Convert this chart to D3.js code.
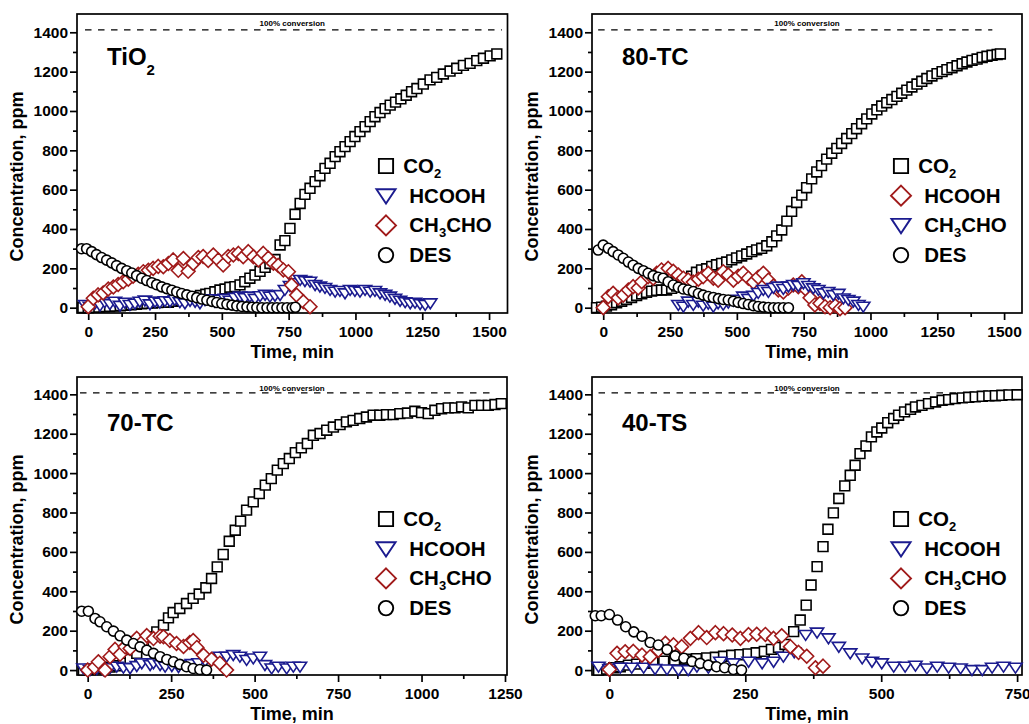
<!DOCTYPE html>
<html><head><meta charset="utf-8">
<script src="https://cdn.jsdelivr.net/npm/d3@7"></script>
<style>
body{margin:0;background:#fff}
svg{display:block}
text{font-family:"Liberation Sans",Arial,sans-serif;font-weight:bold;fill:#000}
</style>
</head><body>
<svg id="chart" width="1029" height="724"></svg>
<script>
// ---------------- DATA ----------------
const panelLabels = ["TiO_2", "80-TC", "70-TC", "40-TS"];
const seriesNamesP1 = ["CO_2", "HCOOH", "CH_3CHO", "DES"];
const seriesNamesP2 = ["CO_2", "HCOOH", "CH_3CHO", "DES"];
const xTicksWide = [0, 250, 500, 750, 1000, 1250, 1500];
const xTicks70 = [0, 250, 500, 750, 1000, 1250];
const xTicks40 = [0, 250, 500, 750];
const yTicks = [0, 200, 400, 600, 800, 1000, 1200, 1400];
const xDomains = [[-42, 1569], [-42, 1567], [-32, 1256], [-32, 759]];
const yDomains = [[-27, 1493], [-27, 1493], [-25, 1488], [-25, 1488]];
const fullConversion = [1412, 1412, 1407, 1407];
const conversionSpan = [[-12, 1548], [-19, 1456], [-23, 1222], [-20, 747]];
const conversionLabel = "100% conversion";
const xTitle = "Time, min";
const yTitle = "Concentration, ppm";

// TiO2
const tio2_CO2 = [[-20,0],[0,0],[20,2],[40,3],[60,5],[80,6],[100,8],[120,10],[140,12],[160,15],[180,17],[200,20],[220,22],[240,24],[260,26],[280,27],[300,28],[320,32],[340,38],[360,44],[380,50],[400,56],[420,62],[440,68],[455,73],[474,81],[493,90],[512,95],[530,104],[549,107],[568,116],[586,132],[605,150],[624,166],[643,185],[662,205],[680,225],[699,245],[718,319],[736,341],[755,403],[774,475],[793,530],[811,576],[830,607],[849,641],[867,671],[886,708],[905,734],[924,768],[942,793],[961,819],[980,844],[998,870],[1017,895],[1036,920],[1055,946],[1073,971],[1092,992],[1111,1012],[1130,1030],[1150,1045],[1170,1062],[1190,1080],[1210,1098],[1230,1114],[1254,1137],[1279,1158],[1304,1171],[1329,1188],[1354,1203],[1379,1217],[1404,1232],[1429,1242],[1454,1256],[1479,1268],[1504,1280],[1529,1290]];
const tio2_HCOOH = [[-12,14],[6,5],[25,20],[44,10],[62,28],[81,18],[100,30],[119,9],[137,25],[156,14],[175,20],[193,30],[212,36],[231,17],[250,30],[268,25],[287,33],[306,31],[324,39],[343,28],[362,22],[381,35],[400,30],[418,22],[437,38],[455,43],[474,30],[493,40],[512,45],[530,35],[549,50],[568,56],[586,48],[605,56],[624,45],[643,58],[662,65],[680,56],[699,60],[718,64],[736,90],[755,110],[774,124],[793,141],[811,135],[830,132],[849,115],[867,107],[886,100],[905,90],[924,81],[942,85],[961,73],[980,90],[998,85],[1017,81],[1036,90],[1055,81],[1073,85],[1092,73],[1111,65],[1129,56],[1148,45],[1167,35],[1186,28],[1205,22],[1223,25],[1242,18],[1261,14],[1280,22]];
const tio2_CH3CHO = [[0,5],[19,48],[37,65],[56,75],[75,95],[94,105],[112,118],[131,132],[150,145],[168,160],[187,170],[206,183],[225,190],[243,200],[262,210],[281,208],[300,225],[318,243],[337,190],[356,250],[374,185],[393,225],[412,255],[430,260],[449,240],[468,268],[487,243],[505,217],[524,260],[543,268],[562,276],[580,259],[599,285],[618,259],[637,243],[655,276],[674,252],[693,226],[711,215],[730,192],[749,183],[761,115],[780,64],[805,30],[830,5]];
const tio2_DES = [[-25,300],[-6,300],[13,285],[31,270],[50,255],[69,242],[88,228],[106,214],[125,200],[144,188],[163,176],[181,163],[200,150],[219,138],[238,127],[256,117],[275,106],[294,97],[313,89],[331,80],[350,72],[369,65],[388,58],[406,51],[425,44],[444,38],[463,32],[481,26],[500,21],[519,17],[538,13],[556,9],[575,6],[594,4],[613,2],[631,1],[650,0],[669,0],[688,0],[706,0],[725,0],[744,0],[763,0],[775,2]];

// 80-TC
const tc80_CO2 = [[-25,0],[-6,3],[12,8],[31,15],[50,25],[69,33],[87,42],[106,52],[125,62],[144,70],[162,78],[181,84],[200,88],[218,90],[237,90],[256,98],[275,110],[293,125],[312,140],[331,160],[349,180],[368,192],[387,198],[406,210],[424,218],[443,225],[462,232],[481,243],[499,253],[518,263],[537,273],[556,285],[574,294],[593,302],[612,315],[631,335],[649,365],[668,395],[687,440],[705,490],[724,535],[743,572],[761,610],[780,655],[799,690],[817,722],[836,755],[855,785],[874,810],[892,835],[911,860],[930,885],[948,910],[967,935],[986,960],[1005,985],[1024,1006],[1042,1025],[1061,1042],[1080,1058],[1099,1074],[1117,1090],[1136,1106],[1155,1122],[1174,1137],[1192,1151],[1211,1165],[1230,1178],[1249,1190],[1268,1200],[1286,1210],[1305,1220],[1324,1230],[1343,1240],[1361,1249],[1380,1257],[1399,1264],[1418,1272],[1436,1278],[1455,1283],[1474,1287],[1486,1290]];
const tc80_HCOOH = [[0,0],[19,56],[37,73],[56,50],[75,64],[94,90],[112,107],[131,100],[144,132],[168,158],[187,150],[200,175],[218,192],[243,200],[262,185],[281,166],[300,150],[318,141],[337,130],[356,145],[374,158],[393,175],[412,150],[430,140],[449,183],[468,166],[487,140],[505,160],[524,175],[543,150],[562,130],[580,155],[599,175],[618,140],[637,110],[655,90],[674,80],[693,100],[711,115],[730,107],[743,132],[761,90],[774,50],[792,14],[811,22],[830,5],[849,0],[868,10],[886,-5],[905,0]];
const tc80_CH3CHO = [[281,14],[300,5],[318,31],[337,14],[356,31],[374,10],[393,20],[412,5],[430,22],[449,15],[468,25],[487,35],[505,40],[524,56],[543,45],[562,60],[580,75],[599,90],[618,80],[637,100],[655,107],[674,95],[693,107],[711,115],[730,110],[749,124],[768,110],[786,98],[805,90],[824,73],[842,80],[861,64],[880,70],[899,47],[917,39],[936,31],[955,14],[973,5]];
const tc80_DES = [[-19,293],[0,318],[19,302],[37,285],[56,268],[75,251],[94,232],[112,216],[131,200],[150,188],[168,175],[187,163],[206,155],[224,150],[243,132],[262,115],[281,104],[299,95],[318,90],[337,82],[356,72],[374,64],[393,57],[412,52],[431,46],[449,42],[468,39],[487,33],[505,27],[524,21],[543,16],[562,10],[580,6],[599,3],[618,1],[637,0],[655,0],[674,0],[693,0]];

// 70-TC
const tc70_CO2 = [[-13,0],[7,3],[27,6],[47,10],[67,15],[87,22],[107,35],[127,55],[147,85],[167,130],[187,169],[207,194],[227,228],[242,265],[256,292],[276,313],[296,338],[316,364],[334,386],[354,418],[371,465],[388,524],[406,587],[424,654],[442,710],[458,756],[476,812],[496,854],[514,896],[532,939],[550,972],[568,1015],[586,1048],[604,1074],[622,1104],[640,1128],[658,1150],[676,1192],[696,1201],[716,1218],[736,1234],[756,1246],[775,1260],[795,1268],[815,1277],[835,1285],[855,1294],[875,1294],[895,1297],[915,1297],[935,1302],[958,1305],[980,1314],[1000,1307],[1020,1302],[1040,1319],[1060,1327],[1080,1331],[1100,1331],[1120,1336],[1140,1331],[1160,1344],[1180,1344],[1200,1344],[1220,1348],[1239,1353]];
const tc70_HCOOH = [[-13,8],[7,0],[27,5],[47,0],[67,10],[87,17],[107,12],[127,9],[147,20],[162,34],[187,25],[197,34],[217,25],[232,17],[252,20],[272,15],[292,25],[312,30],[332,35],[352,45],[376,59],[396,68],[416,68],[436,76],[456,68],[476,51],[496,59],[516,68],[531,25],[551,8],[571,17],[596,8],[616,17],[636,17]];
const tc70_CH3CHO = [[0,0],[20,15],[32,42],[52,0],[67,68],[82,105],[97,80],[112,118],[127,110],[147,161],[162,140],[177,175],[197,160],[217,172],[227,169],[246,150],[266,135],[287,120],[306,140],[316,150],[327,115],[347,75],[371,55],[396,35],[416,0]];
const tc70_DES = [[-18,299],[2,299],[22,262],[37,245],[57,220],[77,198],[97,174],[117,152],[137,135],[157,118],[177,101],[197,85],[217,68],[237,54],[257,42],[276,29],[296,17],[316,8],[336,3],[356,0]];

// 40-TS
const ts40_CO2 = [[-20,0],[-5,5],[8,12],[20,17],[35,25],[50,30],[65,35],[80,40],[100,45],[120,50],[140,55],[160,58],[179,62],[195,65],[210,70],[225,75],[240,78],[255,82],[270,88],[285,95],[298,105],[311,115],[323,130],[339,195],[351,254],[362,330],[371,432],[382,525],[393,627],[402,715],[412,798],[422,871],[433,935],[443,989],[452,1040],[461,1099],[472,1138],[482,1184],[492,1209],[501,1229],[512,1256],[523,1277],[532,1294],[543,1311],[554,1324],[563,1336],[575,1344],[587,1353],[600,1361],[612,1370],[624,1373],[636,1378],[649,1382],[661,1385],[673,1387],[686,1390],[698,1392],[710,1393],[722,1395],[735,1397],[750,1398]];
const ts40_HCOOH = [[-20,17],[0,5],[20,12],[41,12],[63,12],[84,5],[106,3],[127,0],[145,0],[161,17],[182,12],[204,42],[228,34],[256,42],[281,34],[302,42],[320,68],[340,90],[361,178],[382,190],[403,161],[422,118],[443,85],[465,59],[483,42],[501,34],[523,17],[544,17],[563,22],[584,8],[603,17],[624,12],[646,8],[667,0],[686,0],[704,12],[725,17],[747,12]];
const ts40_CH3CHO = [[0,3],[14,85],[29,93],[44,95],[60,76],[75,68],[90,100],[103,136],[118,128],[133,119],[149,161],[164,190],[179,165],[195,190],[210,185],[226,178],[241,161],[256,180],[271,182],[287,181],[302,161],[317,174],[333,119],[348,90],[363,70],[379,12],[393,20]];
const ts40_DES = [[-26,276],[-15,276],[0,282],[15,254],[30,220],[45,194],[60,172],[75,140],[90,127],[106,104],[121,72],[137,60],[152,44],[167,34],[182,25],[197,17],[212,12],[228,3],[243,0]];

// ---------------- LAYOUT / STYLE ----------------
const frames = [
  {l:77, t:14, r:507.5, b:313},
  {l:592, t:14, r:1022, b:313},
  {l:77, t:377, r:507, b:675},
  {l:592, t:377, r:1022, b:675}
];
const panels = [
  {label: panelLabels[0], xt: xTicksWide, names: seriesNamesP1, series: [tio2_CO2, tio2_HCOOH, tio2_CH3CHO, tio2_DES], shapes: ["square","triangle","diamond","circle"], labelDy: 51, legendTop: 152, convDy: 4},
  {label: panelLabels[1], xt: xTicksWide, names: seriesNamesP2, series: [tc80_CO2, tc80_HCOOH, tc80_CH3CHO, tc80_DES], shapes: ["square","diamond","triangle","circle"], labelDy: 51, legendTop: 152, convDy: 4},
  {label: panelLabels[2], xt: xTicks70, names: seriesNamesP1, series: [tc70_CO2, tc70_HCOOH, tc70_CH3CHO, tc70_DES], shapes: ["square","triangle","diamond","circle"], labelDy: 54.3, legendTop: 142, convDy: 2},
  {label: panelLabels[3], xt: xTicks40, names: seriesNamesP1, series: [ts40_CO2, ts40_HCOOH, ts40_CH3CHO, ts40_DES], shapes: ["square","triangle","diamond","circle"], labelDy: 54.3, legendTop: 142, convDy: 2}
];
const shapeColor = {square:"#000", circle:"#000", triangle:"#1b1b8f", diamond:"#a01a1a"};

function shapePath(shape, s) {
  if (shape === "square") { const h = 4.9*s; return `M${-h},${-h}H${h}V${h}H${-h}Z`; }
  if (shape === "circle") { const r = 5*s; return `M${r},0A${r},${r} 0 1,1 ${-r},0A${r},${r} 0 1,1 ${r},0Z`; }
  if (shape === "diamond") { const d = 6.9*s; return `M0,${-d}L${d},0L0,${d}L${-d},0Z`; }
  const w = 6.6*s, t = 4.5*s, b = 5.4*s; // down-pointing triangle
  return `M${-w},${-t}L${w},${-t}L0,${b}Z`;
}

function subText(sel, str, mainSize, subSize, subDy) {
  const parts = str.split(/_(\d)/);
  parts.forEach((p, i) => {
    if (!p) return;
    if (i % 2 === 1) {
      sel.append("tspan").attr("font-size", subSize).attr("dy", subDy).text(p);
    } else {
      const ts = sel.append("tspan").attr("font-size", mainSize).text(p);
      if (i > 0) ts.attr("dy", -subDy);
    }
  });
}

const svg = d3.select("#chart");

panels.forEach((p, pi) => {
  const f = frames[pi];
  const x = d3.scaleLinear().domain(xDomains[pi]).range([f.l, f.r]);
  const y = d3.scaleLinear().domain(yDomains[pi]).range([f.b, f.t]);
  const g = svg.append("g");

  g.append("rect").attr("x", f.l).attr("y", f.t).attr("width", f.r - f.l).attr("height", f.b - f.t)
    .attr("fill", "none").attr("stroke", "#000").attr("stroke-width", 1.7);

  const yAx = g.append("g").attr("transform", `translate(${f.l},0)`)
    .call(d3.axisLeft(y).tickValues(yTicks).tickSize(7).tickPadding(2).tickFormat(d3.format("d")));
  const yMinor = yTicks.slice(0, -1).map(v => v + 100);
  const yAxm = g.append("g").attr("transform", `translate(${f.l},0)`)
    .call(d3.axisLeft(y).tickValues(yMinor).tickSize(4).tickFormat(""));
  const xAx = g.append("g").attr("transform", `translate(0,${f.b})`)
    .call(d3.axisBottom(x).tickValues(p.xt).tickSize(7).tickPadding(6).tickFormat(d3.format("d")));
  const xMinor = p.xt.map(v => v + 125).filter(v => v < xDomains[pi][1]);
  const xAxm = g.append("g").attr("transform", `translate(0,${f.b})`)
    .call(d3.axisBottom(x).tickValues(xMinor).tickSize(4).tickFormat(""));
  [yAx, yAxm, xAx, xAxm].forEach(a => {
    a.select(".domain").remove();
    a.selectAll("line").attr("stroke", "#000").attr("stroke-width", 1.7);
    a.selectAll("text").attr("font-size", 15.5).attr("font-family", null).attr("fill", "#000");
  });

  g.append("text").attr("x", (f.l + f.r) / 2).attr("y", f.b + 44.5).attr("text-anchor", "middle")
    .attr("font-size", 18).text(xTitle);
  g.append("text").attr("transform", `translate(${f.l - 54},${f.t + 162.6}) rotate(-90)`)
    .attr("text-anchor", "middle").attr("font-size", 18).text(yTitle);

  const cs = conversionSpan[pi];
  g.append("line").attr("x1", x(cs[0])).attr("x2", x(cs[1]))
    .attr("y1", y(fullConversion[pi])).attr("y2", y(fullConversion[pi]))
    .attr("stroke", "#000").attr("stroke-width", 1.3).attr("stroke-dasharray", "6.5,6.5");
  g.append("text").attr("x", (f.l + f.r) / 2).attr("y", y(fullConversion[pi]) - p.convDy)
    .attr("text-anchor", "middle").attr("font-size", 8).text(conversionLabel);

  const lab = g.append("text").attr("x", f.l + 30).attr("y", f.t + p.labelDy);
  subText(lab, p.label, 24, 15, 10);

  p.series.forEach((data, si) => {
    const shape = p.shapes[si];
    g.append("g").selectAll("path").data(data).join("path")
      .attr("transform", d => `translate(${x(d[0])},${y(d[1])})`)
      .attr("d", shapePath(shape, 1))
      .attr("fill", "#fff").attr("stroke", shapeColor[shape]).attr("stroke-width", 1.6);
  });

  p.names.forEach((name, si) => {
    const shape = p.shapes[si];
    const cy = f.t + p.legendTop + si * 29.7;
    g.append("path").attr("transform", `translate(${f.l + 309},${cy})`)
      .attr("d", shapePath(shape, 1.45)).attr("fill", "#fff")
      .attr("stroke", shapeColor[shape]).attr("stroke-width", 1.9);
    const t = g.append("text").attr("x", f.l + (si === 0 ? 326.3 : 332.3)).attr("y", cy + 7);
    subText(t, name, 20.5, 13, 5);
  });
});
</script>
</body></html>
